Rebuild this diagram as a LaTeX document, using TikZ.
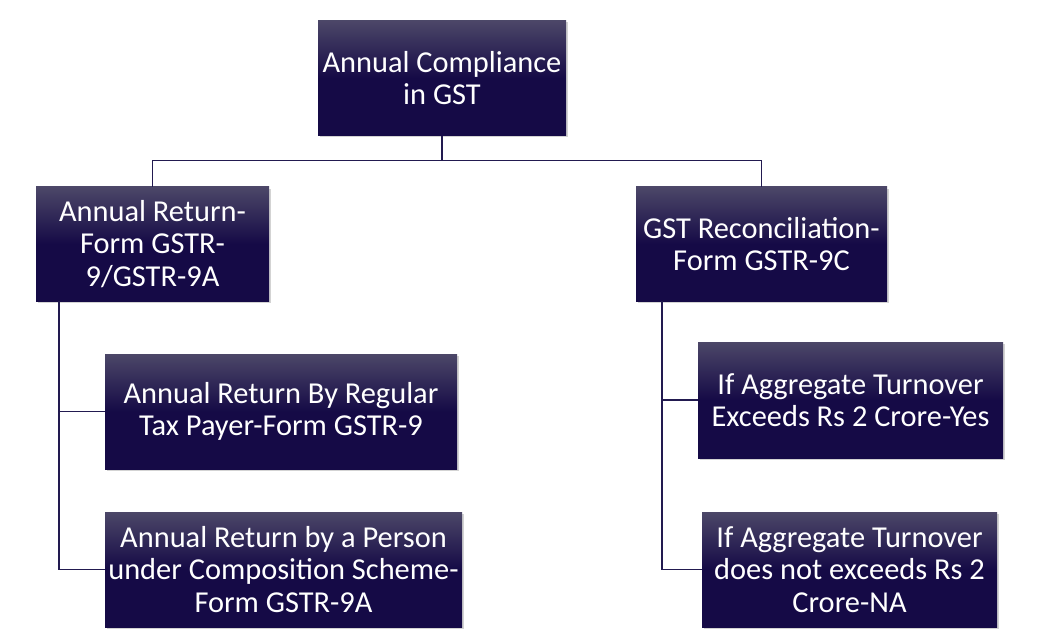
\documentclass[tikz,border=0pt]{standalone}
\usepackage{fontspec}
\setmainfont{Carlito}
\usepackage{xcolor}
\usepackage{tikz}
\usetikzlibrary{positioning,calc,shadows}
\definecolor{boxtop}{HTML}{4C4768}
\definecolor{boxbot}{HTML}{150A46}
\definecolor{linkink}{HTML}{221A50}

\tikzset{
  box/.style={rectangle, inner sep=0pt, align=center, text=white,
    top color=boxtop, bottom color=boxbot, middle color=boxbot,
    drop shadow={shadow xshift=2pt, shadow yshift=-2pt, opacity=0.35},
    font=\fontsize{30.4}{32.5}\selectfont},
  link/.style={draw=linkink, line width=1.4pt}
}

\begin{document}
\begin{tikzpicture}[x=1pt,y=-1pt]
  \useasboundingbox (0,0) rectangle (1052,631);
  % top level
  \node[box, minimum width=248pt, minimum height=115pt] (root) at (442,78)
    {Annual Compliance\\in GST};
  % second level
  \node[box, minimum width=233pt, minimum height=114pt] (annual) at (152.5,244)
    {Annual Return-\\Form GSTR-\\9/GSTR-9A};
  \node[box, minimum width=251pt, minimum height=114pt] (recon) at (761.5,244)
    {GST Reconciliation-\\Form GSTR-9C};
  % third level, left
  \node[box, minimum width=352pt, minimum height=115pt] (regular) at (281,411.5)
    {Annual Return By Regular\\Tax Payer-Form GSTR-9};
  \node[box, minimum width=357pt, minimum height=115pt] (compo) at (283.5,569.5)
    {Annual Return by a Person\\under Composition Scheme-\\Form GSTR-9A};
  % third level, right
  \node[box, minimum width=305pt, minimum height=116pt] (yes) at (850.5,400)
    {If Aggregate Turnover\\Exceeds Rs 2 Crore-Yes};
  \node[box, minimum width=295pt, minimum height=115pt] (na) at (849.5,569.5)
    {If Aggregate Turnover\\does not exceeds Rs 2\\Crore-NA};
  % connectors
  \coordinate (hub) at ($(root.south)+(0,25)$);
  \coordinate (lspine) at ([xshift=23pt]annual.south west);
  \coordinate (rspine) at ([xshift=26pt]recon.south west);
  \draw[link] (root.south) -- (hub) -| (annual.north);
  \draw[link] (hub) -| (recon.north);
  \draw[link] (lspine) |- (regular.west);
  \draw[link] (lspine) |- (compo.west);
  \draw[link] (rspine) |- (yes.west);
  \draw[link] (rspine) |- (na.west);
\end{tikzpicture}
\end{document}
